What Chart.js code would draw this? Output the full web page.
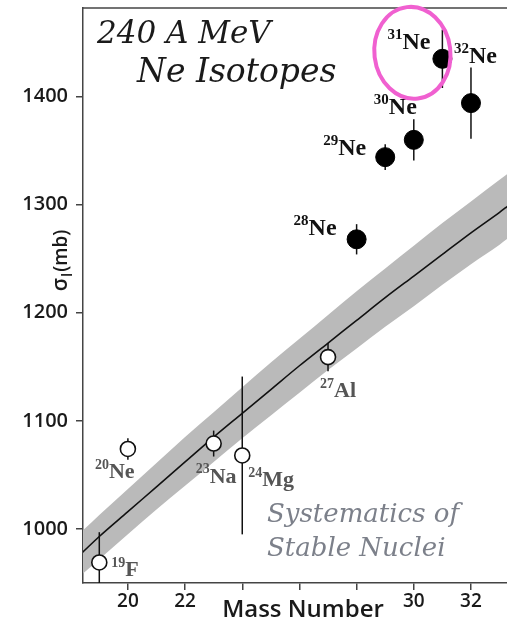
<!DOCTYPE html>
<html>
<head>
<meta charset="utf-8">
<title>Ne isotopes interaction cross sections</title>
<script src="https://cdn.jsdelivr.net/npm/chart.js@4.4.1/dist/chart.umd.min.js"></script>
<style>
  html, body { margin: 0; padding: 0; background: #fff; }
  #wrap { width: 507px; height: 622px; }
</style>
</head>
<body>
<div id="wrap"><canvas id="sigmaChart" width="507" height="622"></canvas></div>
<script>
// stable nuclei (open circles)
const stableMass = [19, 20, 23, 24, 27];
const stableSigma = [969, 1074, 1079, 1068, 1159];
const stableErr = [28, 10, 12, 73, 13];
const stableSymbol = ["F", "Ne", "Na", "Mg", "Al"];

// neon isotopes (filled circles)
const neonMass = [28, 29, 30, 31, 32];
const neonSigma = [1268, 1344, 1360, 1435, 1394];
const neonErr = [14, 12, 19, 27, 33];

// systematics curve and its band
const curveMass = [18.4, 19, 20, 21, 22, 23, 24, 25, 26, 27, 28, 29, 30, 31, 32, 33, 33.3];
const curveSigma = [978, 993, 1016, 1039, 1062, 1085, 1107, 1129, 1151, 1172, 1193, 1214, 1234, 1254, 1274, 1293, 1299];
const bandUpper = [998, 1013, 1037, 1061, 1085, 1108, 1131, 1154, 1176, 1198, 1220, 1241, 1262, 1283, 1303, 1323, 1329];
const bandLower = [958, 972, 995, 1018, 1040, 1062, 1084, 1105, 1126, 1147, 1167, 1187, 1206, 1226, 1245, 1263, 1269];

const xTicks = [20, 22, 24, 26, 28, 30, 32];
const xTickLabels = ["20", "22", "", "", "", "30", "32"];
const yTicks = [1000, 1100, 1200, 1300, 1400];

const toPoints = (xs, ys) => xs.map((x, i) => ({ x: x, y: ys[i] }));

// where each nuclide label sits relative to its marker (px)
const labelOffset = {
  19: [12, 14], 20: [-33, 29], 23: [-18, 39], 24: [6, 31], 27: [-8, 40],
  28: [-63, -4], 29: [-62, -2], 30: [-40, -26], 31: [-55, -10], 32: [-17, -40],
};

function drawNuclide(ctx, x, y, mass, symbol, color, size) {
  ctx.fillStyle = color;
  ctx.textBaseline = "alphabetic";
  ctx.textAlign = "left";
  ctx.font = "bold " + Math.round(size * 0.62) + "px 'Liberation Serif'";
  const sup = String(mass);
  ctx.fillText(sup, x, y - size * 0.42);
  const w = ctx.measureText(sup).width;
  ctx.font = "bold " + size + "px 'Liberation Serif'";
  ctx.fillText(symbol, x + w, y);
}

const errorBars = {
  id: "errorBars",
  afterDatasetDraw(chart, args) {
    if (chart.data.datasets[args.index].label !== "Systematics") return;
    const { ctx, chartArea, scales } = chart;
    ctx.save();
    ctx.beginPath();
    ctx.rect(chartArea.left, chartArea.top, chartArea.right - chartArea.left, chartArea.bottom - chartArea.top);
    ctx.clip();
    ctx.strokeStyle = "#111";
    ctx.lineWidth = 1.5;
    const bar = (m, s, e) => {
      const px = scales.x.getPixelForValue(m);
      ctx.beginPath();
      ctx.moveTo(px, scales.y.getPixelForValue(s - e));
      ctx.lineTo(px, scales.y.getPixelForValue(s + e));
      ctx.stroke();
    };
    stableMass.forEach((m, i) => bar(m, stableSigma[i], stableErr[i]));
    neonMass.forEach((m, i) => bar(m, neonSigma[i], neonErr[i]));
    ctx.restore();
  },
};

const annotations = {
  id: "annotations",
  afterDraw(chart) {
    const { ctx, chartArea, scales } = chart;
    ctx.save();

    // frame top edge
    ctx.strokeStyle = "#444";
    ctx.lineWidth = 1.5;
    ctx.beginPath();
    ctx.moveTo(chartArea.left, chartArea.top);
    ctx.lineTo(chart.width, chartArea.top);
    ctx.stroke();

    // nuclide labels
    stableMass.forEach((m, i) => {
      const o = labelOffset[m];
      drawNuclide(ctx, scales.x.getPixelForValue(m) + o[0], scales.y.getPixelForValue(stableSigma[i]) + o[1], m, stableSymbol[i], "#555", 22);
    });
    neonMass.forEach((m, i) => {
      const o = labelOffset[m];
      drawNuclide(ctx, scales.x.getPixelForValue(m) + o[0], scales.y.getPixelForValue(neonSigma[i]) + o[1], m, "Ne", "#111", 24);
    });

    // headings
    ctx.fillStyle = "#1a1a1a";
    ctx.textAlign = "left";
    ctx.textBaseline = "alphabetic";
    ctx.font = "italic 31px 'DejaVu Serif'";
    ctx.fillText("240 A MeV", 97, 43);
    ctx.font = "italic 33px 'DejaVu Serif'";
    ctx.fillText("Ne Isotopes", 137, 82);

    ctx.fillStyle = "#7c808a";
    ctx.font = "italic 26px 'DejaVu Serif'";
    ctx.fillText("Systematics of", 267, 522);
    ctx.fillText("Stable Nuclei", 267, 556);

    // axis titles
    ctx.fillStyle = "#1a1a1a";
    ctx.font = "600 24px 'Open Sans'";
    ctx.textAlign = "center";
    ctx.fillText("Mass Number", 303, 617);

    ctx.translate(67, 260);
    ctx.rotate(-Math.PI / 2);
    ctx.textAlign = "left";
    const parts = [["σ", 21, 0], ["l", 15, 5], ["(mb)", 19, 0]];
    let total = 0;
    parts.forEach(p => { ctx.font = "600 " + p[1] + "px 'Open Sans'"; total += ctx.measureText(p[0]).width + 1; });
    let x = -total / 2;
    parts.forEach(p => {
      ctx.font = "600 " + p[1] + "px 'Open Sans'";
      ctx.fillText(p[0], x, p[2]);
      x += ctx.measureText(p[0]).width + 1;
    });
    ctx.setTransform(1, 0, 0, 1, 0, 0);

    // highlight ring around 31Ne
    const i31 = neonMass.indexOf(31);
    const cx = scales.x.getPixelForValue(31) - 30;
    const cy = scales.y.getPixelForValue(neonSigma[i31]) - 6;
    ctx.strokeStyle = "#f060d0";
    ctx.lineWidth = 4;
    ctx.beginPath();
    ctx.ellipse(cx, cy, 38, 46, -0.12, 0, Math.PI * 2);
    ctx.stroke();

    ctx.restore();
  },
};

const ctx = document.getElementById("sigmaChart").getContext("2d");

const sigmaChart = new Chart(ctx, {
  type: "scatter",
  data: {
    datasets: [
      {
        label: "Ne isotopes",
        data: toPoints(neonMass, neonSigma),
        pointRadius: 9.5,
        pointBackgroundColor: "#000",
        pointBorderColor: "#000",
        pointBorderWidth: 1,
        order: 0,
      },
      {
        label: "Stable nuclei",
        data: toPoints(stableMass, stableSigma),
        pointRadius: 7.5,
        pointBackgroundColor: "#fff",
        pointBorderColor: "#111",
        pointBorderWidth: 1.6,
        order: 1,
      },
      {
        label: "Systematics",
        data: toPoints(curveMass, curveSigma),
        showLine: true,
        pointRadius: 0,
        borderColor: "#111",
        borderWidth: 1.6,
        cubicInterpolationMode: "monotone",
        order: 2,
      },
      {
        label: "Band upper",
        data: toPoints(curveMass, bandUpper),
        showLine: true,
        pointRadius: 0,
        borderWidth: 0,
        borderColor: "rgba(0,0,0,0)",
        backgroundColor: "#bababa",
        fill: "+1",
        cubicInterpolationMode: "monotone",
        order: 3,
      },
      {
        label: "Band lower",
        data: toPoints(curveMass, bandLower),
        showLine: true,
        pointRadius: 0,
        borderWidth: 0,
        borderColor: "rgba(0,0,0,0)",
        fill: false,
        cubicInterpolationMode: "monotone",
        order: 4,
      },
    ],
  },
  options: {
    responsive: false,
    animation: false,
    layout: { autoPadding: false, padding: { top: 8, right: 0, bottom: 0, left: 0 } },
    plugins: {
      legend: { display: false },
      tooltip: { enabled: false },
    },
    scales: {
      x: {
        type: "linear",
        min: 18.43,
        max: 33.26,
        afterFit: (scale) => {
          scale.height = 39;
          scale.paddingLeft = 0;
          scale.paddingRight = 0;
        },
        afterBuildTicks: (scale) => { scale.ticks = xTicks.map(v => ({ value: v })); },
        grid: { drawOnChartArea: false, tickLength: 7, color: "#444", lineWidth: 1.5 },
        border: { color: "#444", width: 1.5 },
        ticks: {
          padding: 0,
          color: "#1a1a1a",
          maxRotation: 0,
          autoSkip: false,
          font: { family: "Open Sans", size: 19, weight: 600 },
          callback: (value) => xTickLabels[xTicks.indexOf(value)] ?? "",
        },
      },
      y: {
        type: "linear",
        min: 950,
        max: 1482,
        afterFit: (scale) => {
          scale.width = 83;
          scale.paddingTop = 0;
          scale.paddingBottom = 0;
        },
        afterBuildTicks: (scale) => { scale.ticks = yTicks.map(v => ({ value: v })); },
        grid: { drawOnChartArea: false, tickLength: 7, color: "#444", lineWidth: 1.5 },
        border: { color: "#444", width: 1.5 },
        ticks: {
          padding: 8,
          color: "#1a1a1a",
          font: { family: "Open Sans", size: 20, weight: 600 },
          callback: (value) => String(value),
        },
      },
    },
  },
  plugins: [errorBars, annotations],
});
</script>
</body>
</html>
